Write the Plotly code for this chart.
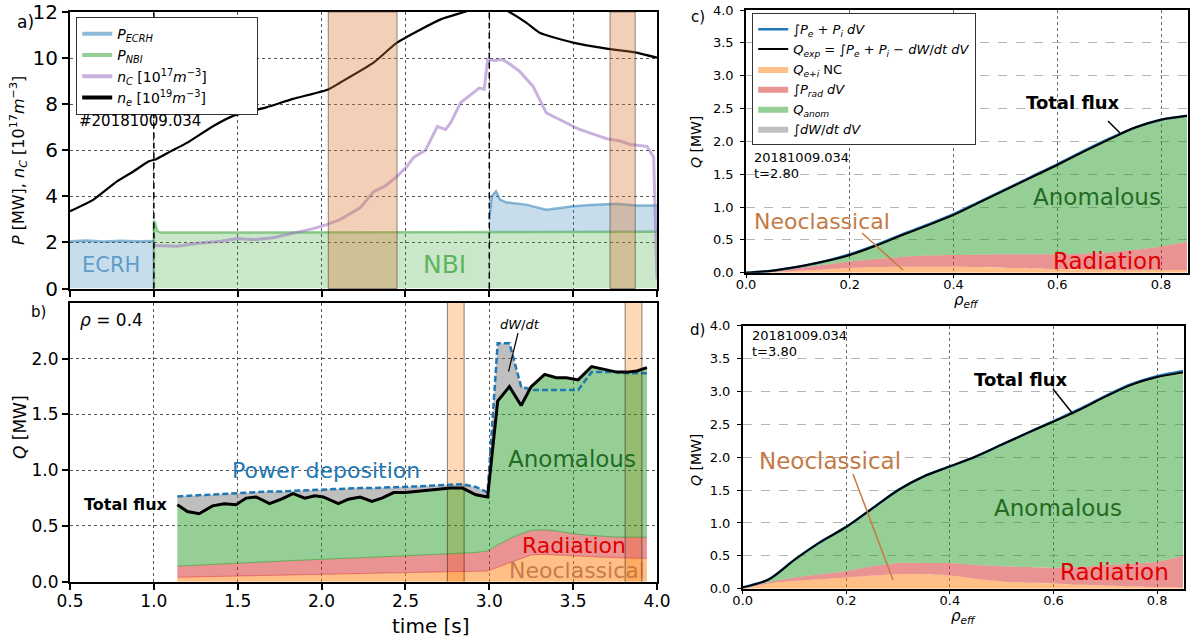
import numpy as np
import plotly.graph_objects as go

W, H = 1190, 641
FONT = "DejaVu Sans"


def px(x):
    return x / W


def py(y):
    return 1 - y / H


# ---------------- panel a data ----------------
ne_t = [0.50, 0.64, 0.78, 0.88, 0.97, 1.01, 1.10, 1.20, 1.35, 1.47, 1.67, 1.83, 2.04, 2.11,
        2.31, 2.45, 2.71, 2.85, 2.95, 3.05, 3.12, 3.22, 3.30, 3.50, 3.70, 3.86, 4.00]
ne = [3.35, 3.86, 4.65, 5.09, 5.52, 5.60, 5.95, 6.33, 7.03, 7.48, 7.86, 8.23, 8.64, 8.93,
      9.80, 10.67, 11.68, 12.00, 12.25, 12.25, 12.00, 11.54, 11.10, 10.67, 10.41, 10.26, 10.02]

nc_t = [1.00, 1.14, 1.25, 1.40, 1.50, 1.60, 1.71, 1.80, 1.87, 1.95, 2.03, 2.11, 2.23, 2.31,
        2.38, 2.45, 2.51, 2.55, 2.62, 2.69, 2.74, 2.77, 2.83, 2.90, 2.94, 2.97, 2.99, 3.03,
        3.08, 3.13, 3.18, 3.26, 3.34, 3.40, 3.46, 3.54, 3.62, 3.70, 3.78, 3.84, 3.94, 3.98, 4.00]
nc = [1.87, 1.83, 1.95, 2.05, 2.17, 2.12, 2.20, 2.35, 2.48, 2.60, 2.77, 2.99, 3.50, 4.20,
      4.45, 4.87, 5.30, 5.70, 6.00, 7.03, 6.90, 7.20, 8.07, 8.45, 8.70, 8.65, 9.94, 9.90,
      9.94, 9.70, 9.43, 8.78, 7.62, 7.40, 7.20, 6.90, 6.70, 6.50, 6.40, 6.25, 6.17, 5.70, 0.40]

ecrh1_t = [0.50, 0.60, 0.70, 0.80, 0.90, 1.00]
ecrh1 = [2.05, 2.08, 2.04, 2.07, 2.05, 2.06]
ecrh2_t = [3.00, 3.015, 3.04, 3.064, 3.10, 3.22, 3.34, 3.42, 3.50, 3.60, 3.76, 3.88, 4.00]
ecrh2 = [2.98, 4.00, 4.22, 3.86, 3.74, 3.64, 3.42, 3.50, 3.57, 3.62, 3.68, 3.60, 3.60]

nbi_t = [1.00, 1.00, 1.005, 1.02, 1.04, 2.00, 3.00, 4.00]
nbi = [0.00, 2.95, 2.90, 2.50, 2.43, 2.45, 2.46, 2.46]

bands_a = [(2.04, 2.45), (3.72, 3.87)]
vlines_a = [1.0, 3.0]

# ---------------- panel b data (rho = 0.4) ----------------
t_b = [1.14, 1.20, 1.27, 1.35, 1.42, 1.49, 1.55, 1.61, 1.69, 1.76, 1.83, 1.90, 1.96, 2.01,
       2.10, 2.16, 2.23, 2.30, 2.36, 2.43, 2.50, 2.56, 2.63, 2.70, 2.77, 2.84, 2.92, 2.99,
       3.05, 3.12, 3.19, 3.25, 3.33, 3.40, 3.46, 3.53, 3.61, 3.70, 3.76, 3.82, 3.88, 3.94]
qtot_b = [0.69, 0.63, 0.61, 0.68, 0.70, 0.69, 0.75, 0.76, 0.70, 0.74, 0.79, 0.75, 0.77, 0.76,
          0.70, 0.74, 0.76, 0.72, 0.75, 0.80, 0.80, 0.81, 0.82, 0.83, 0.84, 0.84, 0.78, 0.76,
          1.62, 1.75, 1.58, 1.75, 1.86, 1.83, 1.83, 1.81, 1.93, 1.90, 1.88, 1.88, 1.89, 1.92]
pdep_b = [0.765, 0.77, 0.78, 0.785, 0.79, 0.795, 0.80, 0.805, 0.81, 0.81, 0.815, 0.82, 0.82, 0.825,
          0.83, 0.835, 0.84, 0.84, 0.845, 0.85, 0.85, 0.855, 0.86, 0.865, 0.875, 0.875, 0.85, 0.80,
          2.14, 2.14, 1.75, 1.72, 1.72, 1.72, 1.72, 1.72, 1.88, 1.88, 1.88, 1.87, 1.87, 1.87]
neo_b = [0.040, 0.042, 0.045, 0.048, 0.050, 0.053, 0.055, 0.058, 0.060, 0.062, 0.065, 0.067, 0.069, 0.070,
         0.072, 0.074, 0.076, 0.078, 0.080, 0.082, 0.084, 0.086, 0.087, 0.089, 0.090, 0.092, 0.094, 0.096,
         0.130, 0.170, 0.210, 0.240, 0.245, 0.242, 0.236, 0.230, 0.224, 0.218, 0.214, 0.212, 0.210, 0.210]
rad_b = [0.100, 0.103, 0.105, 0.107, 0.110, 0.112, 0.115, 0.117, 0.120, 0.123, 0.125, 0.128, 0.131, 0.135,
         0.138, 0.139, 0.140, 0.142, 0.144, 0.146, 0.148, 0.150, 0.153, 0.155, 0.158, 0.160, 0.168, 0.180,
         0.200, 0.215, 0.220, 0.220, 0.220, 0.213, 0.204, 0.195, 0.191, 0.187, 0.186, 0.188, 0.190, 0.190]
bands_b = [(2.75, 2.85), (3.81, 3.91)]

# ---------------- panels c, d data (profiles) ----------------
rho = [0.00, 0.05, 0.10, 0.15, 0.20, 0.25, 0.30, 0.35, 0.40, 0.45, 0.50, 0.55, 0.60, 0.65, 0.70, 0.75, 0.80, 0.85]

qtot_c = [0.00, 0.03, 0.09, 0.17, 0.27, 0.41, 0.57, 0.72, 0.88, 1.07, 1.26, 1.45, 1.64, 1.84, 2.03, 2.21, 2.33, 2.39]
pdep_c = [0.00, 0.03, 0.09, 0.17, 0.28, 0.42, 0.58, 0.73, 0.89, 1.08, 1.27, 1.46, 1.65, 1.85, 2.04, 2.21, 2.33, 2.39]
neo_c = [0.00, 0.01, 0.03, 0.05, 0.07, 0.085, 0.09, 0.09, 0.09, 0.085, 0.075, 0.065, 0.055, 0.05, 0.045, 0.04, 0.04, 0.04]
rad_c = [0.00, 0.01, 0.04, 0.07, 0.10, 0.125, 0.15, 0.17, 0.18, 0.19, 0.205, 0.215, 0.225, 0.24, 0.265, 0.31, 0.36, 0.43]

qtot_d = [0.02, 0.14, 0.44, 0.71, 0.94, 1.22, 1.50, 1.71, 1.86, 2.01, 2.19, 2.37, 2.54, 2.72, 2.92, 3.10, 3.22, 3.29]
pdep_d = [0.02, 0.14, 0.44, 0.71, 0.94, 1.22, 1.50, 1.71, 1.86, 2.01, 2.19, 2.37, 2.55, 2.73, 2.93, 3.11, 3.23, 3.31]
neo_d = [0.01, 0.08, 0.12, 0.145, 0.17, 0.20, 0.22, 0.22, 0.20, 0.15, 0.11, 0.09, 0.08, 0.06, 0.046, 0.035, 0.025, 0.02]
rad_d = [0.00, 0.02, 0.05, 0.075, 0.10, 0.14, 0.17, 0.17, 0.19, 0.21, 0.23, 0.24, 0.24, 0.27, 0.314, 0.345, 0.385, 0.48]

# ---------------- colours ----------------
C_ORANGE_F = "rgba(255,127,14,0.5)"
C_RED_F = "rgba(214,39,40,0.5)"
C_GREEN_F = "rgba(44,160,44,0.5)"
C_GRAY_F = "rgba(128,128,128,0.5)"
C_BLUE = "#1f77b4"

fig = go.Figure()

# ================= panel a =================
fig.add_trace(go.Scatter(x=nbi_t, y=nbi, mode="lines", fill="tozeroy",
                         fillcolor="rgba(44,160,44,0.25)",
                         line=dict(color="rgba(44,160,44,0.5)", width=2.5),
                         xaxis="x", yaxis="y", showlegend=False))
fig.add_trace(go.Scatter(x=ecrh1_t, y=ecrh1, mode="lines", fill="tozeroy",
                         fillcolor="rgba(31,119,180,0.25)",
                         line=dict(color="rgba(31,119,180,0.5)", width=2.5),
                         xaxis="x", yaxis="y", showlegend=False))
ecrh_base = np.interp(ecrh2_t, nbi_t, nbi)
fig.add_trace(go.Scatter(x=ecrh2_t, y=ecrh_base, mode="lines", line=dict(width=0, color="rgba(0,0,0,0)"),
                         xaxis="x", yaxis="y", showlegend=False))
fig.add_trace(go.Scatter(x=ecrh2_t, y=ecrh2, mode="lines", fill="tonexty",
                         fillcolor="rgba(31,119,180,0.25)",
                         line=dict(color="rgba(31,119,180,0.5)", width=2.5),
                         xaxis="x", yaxis="y", showlegend=False))
fig.add_trace(go.Scatter(x=nc_t, y=nc, mode="lines",
                         line=dict(color="rgba(148,103,189,0.5)", width=3),
                         xaxis="x", yaxis="y", showlegend=False))
fig.add_trace(go.Scatter(x=ne_t, y=ne, mode="lines",
                         line=dict(color="black", width=2.2, shape="spline", smoothing=0.5),
                         xaxis="x", yaxis="y", showlegend=False))

# legend entries panel a
PAD = "\u00a0" * 10
leg_a = [
    ("<i>P<sub>ECRH</sub></i>", "rgba(31,119,180,0.5)"),
    ("<i>P<sub>NBI</sub></i>", "rgba(44,160,44,0.5)"),
    ("<i>n<sub>C</sub></i> [10<sup>17</sup><i>m</i><sup>−3</sup>]" + PAD, "rgba(148,103,189,0.5)"),
    ("<i>n<sub>e</sub></i> [10<sup>19</sup><i>m</i><sup>−3</sup>]" + PAD, "black"),
]
for name, col in leg_a:
    fig.add_trace(go.Scatter(x=[None], y=[None], mode="lines", name=name,
                             line=dict(color=col, width=4), xaxis="x", yaxis="y",
                             legend="legend"))

# ================= panel b =================
neo_b_a = np.array(neo_b)
rad_top_b = neo_b_a + np.array(rad_b)
qtot_b_a = np.array(qtot_b)
gray_top_b = np.maximum(qtot_b_a, np.array(pdep_b))

fig.add_trace(go.Scatter(x=t_b, y=neo_b_a, mode="lines", fill="tozeroy", fillcolor=C_ORANGE_F,
                         line=dict(color="rgba(214,39,40,0.45)", width=1),
                         xaxis="x2", yaxis="y2", showlegend=False))
fig.add_trace(go.Scatter(x=t_b, y=rad_top_b, mode="lines", fill="tonexty", fillcolor=C_RED_F,
                         line=dict(color="rgba(44,160,44,0.6)", width=1),
                         xaxis="x2", yaxis="y2", showlegend=False))
fig.add_trace(go.Scatter(x=t_b, y=qtot_b_a, mode="lines", fill="tonexty", fillcolor=C_GREEN_F,
                         line=dict(color="rgba(44,160,44,0.5)", width=1),
                         xaxis="x2", yaxis="y2", showlegend=False))
fig.add_trace(go.Scatter(x=t_b, y=gray_top_b, mode="lines", fill="tonexty", fillcolor=C_GRAY_F,
                         line=dict(width=0, color="rgba(0,0,0,0)"),
                         xaxis="x2", yaxis="y2", showlegend=False))
fig.add_trace(go.Scatter(x=t_b, y=pdep_b, mode="lines",
                         line=dict(color=C_BLUE, width=2.5, dash="6px,3px"),
                         xaxis="x2", yaxis="y2", showlegend=False))
fig.add_trace(go.Scatter(x=t_b, y=qtot_b, mode="lines",
                         line=dict(color="black", width=3),
                         xaxis="x2", yaxis="y2", showlegend=False))


# ================= panels c, d =================
def profile(xa, ya, qtot, pdep, neo, rad, legend):
    neo_a = np.array(neo)
    radtop = neo_a + np.array(rad)
    q = np.array(qtot)
    gtop = np.maximum(q, np.array(pdep))
    sl = legend is not None
    lg = legend if legend else "legend2"
    sh = dict(shape="spline", smoothing=0.8)
    fig.add_trace(go.Scatter(x=rho, y=neo_a, mode="lines", fill="tozeroy", fillcolor=C_ORANGE_F,
                             line=dict(width=0, color="rgba(0,0,0,0)", **sh), name="<i>Q<sub>e+i</sub></i> NC",
                             xaxis=xa, yaxis=ya, showlegend=sl, legend=lg, legendrank=3))
    fig.add_trace(go.Scatter(x=rho, y=radtop, mode="lines", fill="tonexty", fillcolor=C_RED_F,
                             line=dict(width=0, color="rgba(0,0,0,0)", **sh),
                             name="∫<i>P<sub>rad</sub> dV</i>",
                             xaxis=xa, yaxis=ya, showlegend=sl, legend=lg, legendrank=4))
    fig.add_trace(go.Scatter(x=rho, y=q, mode="lines", fill="tonexty", fillcolor=C_GREEN_F,
                             line=dict(width=0, color="rgba(0,0,0,0)", **sh),
                             name="<i>Q<sub>anom</sub></i>",
                             xaxis=xa, yaxis=ya, showlegend=sl, legend=lg, legendrank=5))
    fig.add_trace(go.Scatter(x=rho, y=gtop, mode="lines", fill="tonexty", fillcolor=C_GRAY_F,
                             line=dict(width=0, color="rgba(0,0,0,0)", **sh),
                             name="∫<i>dW</i>/<i>dt dV</i>",
                             xaxis=xa, yaxis=ya, showlegend=sl, legend=lg, legendrank=6))
    fig.add_trace(go.Scatter(x=rho, y=pdep, mode="lines",
                             line=dict(color=C_BLUE, width=2.5, **sh),
                             name="∫<i>P<sub>e</sub></i> + <i>P<sub>i</sub> dV</i>",
                             xaxis=xa, yaxis=ya, showlegend=sl, legend=lg, legendrank=1))
    fig.add_trace(go.Scatter(x=rho, y=q, mode="lines",
                             line=dict(color="black", width=2, **sh),
                             name="<i>Q<sub>exp</sub></i> = ∫<i>P<sub>e</sub></i> + <i>P<sub>i</sub></i> − <i>dW</i>/<i>dt dV</i>",
                             xaxis=xa, yaxis=ya, showlegend=sl, legend=lg, legendrank=2))


profile("x3", "y3", qtot_c, pdep_c, neo_c, rad_c, "legend2")
profile("x4", "y4", qtot_d, pdep_d, neo_d, rad_d, None)

# ================= axes =================
tickfont_ab = dict(family=FONT, size=17, color="black")
tickfont_cd = dict(family=FONT, size=13, color="black")
common = dict(showline=True, mirror=True, linecolor="black", ticks="outside",
              tickcolor="black", zeroline=False, showgrid=True, automargin=False)

xa_dom = [px(70), px(657)]
fig.update_layout(
    xaxis=dict(domain=xa_dom, range=[0.5, 4.0], anchor="y", tickvals=[0.5, 1, 1.5, 2, 2.5, 3, 3.5, 4],
               showticklabels=False, linewidth=2, tickwidth=1.5, ticklen=6,
               gridcolor="#555", griddash="dot", gridwidth=1, **common),
    yaxis=dict(domain=[py(288.5), py(12)], range=[0, 12], anchor="x", tickvals=[0, 2, 4, 6, 8, 10, 12],
               tickfont=dict(family=FONT, size=20, color="black"), linewidth=2, tickwidth=1.5, ticklen=6,
               gridcolor="#555", griddash="dot", gridwidth=1, **common),
    xaxis2=dict(domain=xa_dom, range=[0.5, 4.0], anchor="y2", tickvals=[0.5, 1, 1.5, 2, 2.5, 3, 3.5, 4],
                tickformat=".1f", tickfont=tickfont_ab, linewidth=2, tickwidth=1.5, ticklen=6,
                ticklabelstandoff=-3,
                gridcolor="#555", griddash="dot", gridwidth=1, **common),
    yaxis2=dict(domain=[py(581.7), py(303)], range=[0, 2.5], anchor="x2", tickvals=[0, 0.5, 1, 1.5, 2],
                tickformat=".1f", tickfont=tickfont_ab, linewidth=2, tickwidth=1.5, ticklen=6,
                gridcolor="#555", griddash="dot", gridwidth=1, **common),
    xaxis3=dict(domain=[px(746), px(1188)], range=[0, 0.852], anchor="y3", tickvals=[0, 0.2, 0.4, 0.6, 0.8],
                tickformat=".1f", tickfont=tickfont_cd, linewidth=1.5, tickwidth=1.2, ticklen=4,
                ticklabelstandoff=-5,
                gridcolor="#666", griddash="dot", gridwidth=1, **common),
    yaxis3=dict(domain=[py(272.7), py(10)], range=[0, 4], anchor="x3",
                tickvals=[0, 0.5, 1, 1.5, 2, 2.5, 3, 3.5, 4], tickformat=".1f", tickfont=tickfont_cd,
                linewidth=1.5, tickwidth=1.2, ticklen=4, ticklabelstandoff=4,
                gridcolor="#b5b5b5", griddash="dash", gridwidth=1, **common),
    xaxis4=dict(domain=[px(742.7), px(1184)], range=[0, 0.852], anchor="y4", tickvals=[0, 0.2, 0.4, 0.6, 0.8],
                tickformat=".1f", tickfont=tickfont_cd, linewidth=1.5, tickwidth=1.2, ticklen=4,
                ticklabelstandoff=-5,
                gridcolor="#666", griddash="dot", gridwidth=1, **common),
    yaxis4=dict(domain=[py(588.7), py(325.7)], range=[0, 4], anchor="x4",
                tickvals=[0, 0.5, 1, 1.5, 2, 2.5, 3, 3.5, 4], tickformat=".1f", tickfont=tickfont_cd,
                linewidth=1.5, tickwidth=1.2, ticklen=4, ticklabelstandoff=4,
                gridcolor="#b5b5b5", griddash="dash", gridwidth=1, **common),
)

# ================= shapes =================
shapes = []
for x in vlines_a:
    shapes.append(dict(type="line", xref="x", yref="y domain", x0=x, x1=x, y0=0, y1=1,
                       line=dict(color="black", width=1.5, dash="6px,4px"), layer="above"))
for a, b in bands_a:
    shapes.append(dict(type="rect", xref="x", yref="y domain", x0=a, x1=b, y0=0, y1=1,
                       fillcolor="rgba(218,121,52,0.35)", line=dict(color="rgba(70,50,40,0.55)", width=1),
                       layer="above"))
for a, b in bands_b:
    shapes.append(dict(type="rect", xref="x2", yref="y2 domain", x0=a, x1=b, y0=0, y1=1,
                       fillcolor="rgba(255,127,14,0.3)", line=dict(width=0), layer="below"))
    for x in (a, b):
        shapes.append(dict(type="line", xref="x2", yref="y2 domain", x0=x, x1=x, y0=0, y1=1,
                           line=dict(color="rgba(40,30,20,0.55)", width=1), layer="above"))


def pline(x0, y0, x1, y1, col, w=1.5):
    shapes.append(dict(type="line", xref="paper", yref="paper", x0=px(x0), y0=py(y0),
                       x1=px(x1), y1=py(y1), line=dict(color=col, width=w), layer="above"))


NEO_COL = "#c47a45"
pline(518, 333, 508.5, 371.5, "black", 1.2)          # dW/dt
pline(1108, 121, 1120, 133, "black", 1.5)          # c total flux
pline(862, 233, 903, 270, NEO_COL, 1.5)            # c neoclassical
pline(1053, 389, 1073, 414, "black", 1.5)          # d total flux
pline(853, 474, 893, 580, NEO_COL, 1.5)            # d neoclassical
fig.update_layout(shapes=shapes)

# ================= annotations =================
ann = []


def txt(x, y, s, size, color="black", xanchor="center", angle=0, yanchor="middle"):
    ann.append(dict(x=px(x), y=py(y), xref="paper", yref="paper", text=s, showarrow=False,
                    font=dict(family=FONT, size=size, color=color), xanchor=xanchor,
                    yanchor=yanchor, textangle=angle))


txt(25, 22, "a)", 17)
txt(38, 312, "b)", 15)
txt(698, 17, "c)", 15)
txt(697, 330, "d)", 15)
txt(19, 161, "<i>P</i> [MW], <i>n<sub>C</sub></i> [10<sup>17</sup><i>m</i><sup>−3</sup>]", 16, angle=-90)
txt(20, 427, "<i>Q</i> [MW]", 17, angle=-90)
txt(696, 142, "<i>Q</i> [MW]", 14, angle=-90)
txt(696, 460, "<i>Q</i> [MW]", 14, angle=-90)
txt(431, 626, "time [s]", 20)
txt(966, 300, "<i>ρ<sub>eff</sub></i>", 15)
txt(963, 616, "<i>ρ<sub>eff</sub></i>", 15)

txt(77, 121, "#20181009.034", 15, xanchor="left")
txt(111, 265, "ECRH", 21, color="rgba(31,119,180,0.65)")
txt(444, 265, "NBI", 25, color="rgba(44,160,44,0.7)")

txt(78, 320, "<i>ρ</i> = 0.4", 17, xanchor="left")
txt(126, 504, "<b>Total flux</b>", 16)
txt(326, 470, "Power deposition", 22, color=C_BLUE)
txt(572, 459, "Anomalous", 23, color="#236b23")
txt(574, 545, "Radiation", 22, color="#e00000")
txt(577, 570, "Neoclassical", 22, color="rgba(190,110,60,0.85)")
txt(520, 325, "<i>dW</i>/<i>dt</i>", 13)

txt(752, 157, "20181009.034", 13, xanchor="left")
txt(752, 174, "t=2.80", 13, xanchor="left")
txt(1073, 103, "<b>Total flux</b>", 18)
txt(1097, 197, "Anomalous", 23, color="#236b23")
txt(1107, 261, "Radiation", 23, color="#e00000")
txt(822, 221, "Neoclassical", 22, color=NEO_COL)

txt(750, 335, "20181009.034", 13, xanchor="left")
txt(750, 351, "t=3.80", 13, xanchor="left")
txt(1021, 379, "<b>Total flux</b>", 18)
txt(1058, 508, "Anomalous", 23, color="#236b23")
txt(1114, 572, "Radiation", 23, color="#e00000")
txt(830, 461, "Neoclassical", 23, color=NEO_COL)

fig.update_layout(annotations=ann)

# ================= layout =================
fig.update_layout(
    width=W, height=H, margin=dict(l=0, r=0, t=0, b=0, autoexpand=False),
    paper_bgcolor="white", plot_bgcolor="white",
    font=dict(family=FONT, color="black"),
    showlegend=True,
    legend=dict(x=px(76), y=py(17), xanchor="left", yanchor="top", bgcolor="white",
                bordercolor="#333", borderwidth=1.2, font=dict(family=FONT, size=14, color="black"),
                tracegroupgap=0, itemwidth=30, traceorder="normal"),
    legend2=dict(x=px(752), y=py(13), xanchor="left", yanchor="top", bgcolor="white",
                 bordercolor="#333", borderwidth=1.2, font=dict(family=FONT, size=13, color="black"),
                 tracegroupgap=0, itemwidth=30, traceorder="normal"),
)

fig.write_html("out.html")
